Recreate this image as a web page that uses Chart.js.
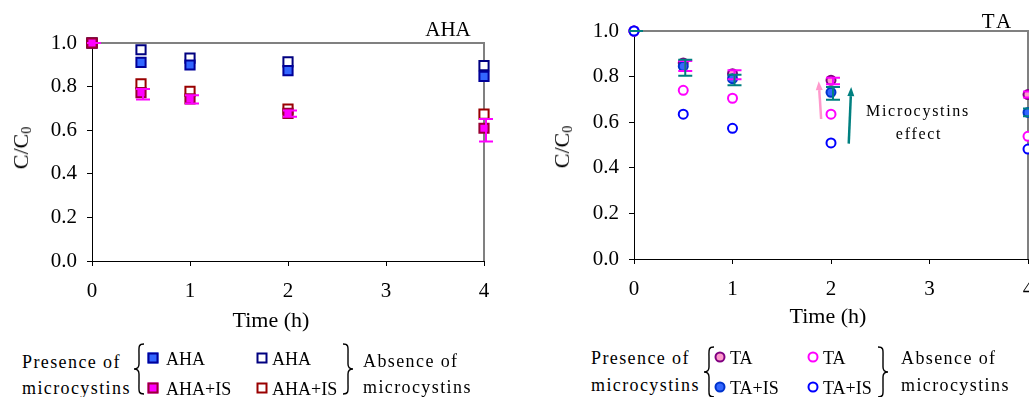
<!DOCTYPE html>
<html>
<head>
<meta charset="utf-8">
<script src="https://cdn.jsdelivr.net/npm/chart.js@4.4.1/dist/chart.umd.min.js"></script>
<style>
  body { margin: 0; background: #fff; }
  #page { position: relative; width: 1029px; height: 397px; overflow: hidden;
          font-family: "Liberation Serif", "Times New Roman", serif; color: #000; }
  canvas { position: absolute; top: 0; }
  .t { position: absolute; white-space: nowrap; line-height: 1; transform: translate(-50%, -50%); }
  .l { position: absolute; white-space: nowrap; line-height: 1; transform: translateY(-50%); font-size: 18px; }
  .sp { letter-spacing: 1.4px; }
  .ytitle { transform: translate(-50%, -50%) rotate(-90deg); font-size: 22px; }
  .ytitle sub { font-size: 14px; vertical-align: -3px; }
  .mk { position: absolute; box-sizing: border-box; width: 11px; height: 11px; border: 2px solid; transform: translate(-50%, -50%); }
  .ci { border-radius: 50%; }
  svg.br { position: absolute; overflow: visible; }
</style>
</head>
<body>
<div id="page">
  <canvas id="ahaChart" width="510" height="310" style="left:0"></canvas>
  <canvas id="taChart" width="530" height="310" style="left:520px"></canvas>

  <div class="t" style="left:448px; top:29px; font-size:21px">AHA</div>
  <div class="t" style="left:998px; top:21px; font-size:21px; letter-spacing:3px">TA</div>
  <div class="t" style="left:271px; top:320px; font-size:22px">Time (h)</div>
  <div class="t" style="left:828px; top:316px; font-size:22px">Time (h)</div>
  <div class="t ytitle" style="left:22px; top:148px">C/C<sub>0</sub></div>
  <div class="t ytitle" style="left:563px; top:147px">C/C<sub>0</sub></div>
  <div class="t sp" style="left:918px; top:111px; font-size:16px; letter-spacing:1.7px">Microcystins</div>
  <div class="t sp" style="left:919px; top:134px; font-size:16px; letter-spacing:1.7px">effect</div>

  <!-- legend AHA -->
  <div class="l sp" style="left:22px; top:362px">Presence of</div>
  <div class="l sp" style="left:22px; top:388px">microcystins</div>
  <svg class="br" style="left:134px; top:343px" width="10" height="52"><path d="M10,1 C4,1 5,4 5,12 L5,21 C5,24 3,26 0,26 C3,26 5,28 5,31 L5,40 C5,48 4,51 10,51" fill="none" stroke="#000" stroke-width="1.4"/></svg>
  <div class="mk" style="left:153px; top:358px; background:#3366FF; border-color:#000099"></div>
  <div class="l" style="left:166px; top:359px">AHA</div>
  <div class="mk" style="left:153px; top:388px; background:#FF00FF; border-color:#990033"></div>
  <div class="l" style="left:166px; top:389px">AHA+IS</div>
  <div class="mk" style="left:262px; top:358px; background:#fff; border-color:#000080"></div>
  <div class="l" style="left:272px; top:359px">AHA</div>
  <div class="mk" style="left:262px; top:388px; background:#fff; border-color:#990000"></div>
  <div class="l" style="left:272px; top:389px">AHA+IS</div>
  <svg class="br" style="left:343px; top:343px" width="10" height="52"><path d="M0,1 C6,1 5,4 5,12 L5,21 C5,24 7,26 10,26 C7,26 5,28 5,31 L5,40 C5,48 6,51 0,51" fill="none" stroke="#000" stroke-width="1.4"/></svg>
  <div class="l sp" style="left:363px; top:361px">Absence of</div>
  <div class="l sp" style="left:363px; top:387px">microcystins</div>

  <!-- legend TA -->
  <div class="l sp" style="left:591px; top:358px">Presence of</div>
  <div class="l sp" style="left:591px; top:385px">microcystins</div>
  <svg class="br" style="left:704px; top:346px" width="10" height="52"><path d="M10,1 C4,1 5,4 5,12 L5,21 C5,24 3,26 0,26 C3,26 5,28 5,31 L5,40 C5,48 4,51 10,51" fill="none" stroke="#000" stroke-width="1.4"/></svg>
  <div class="mk ci" style="left:720px; top:357px; background:#FF99CC; border-color:#800080"></div>
  <div class="l" style="left:730px; top:358px">TA</div>
  <div class="mk ci" style="left:720px; top:387px; background:#3366FF; border-color:#0033CC"></div>
  <div class="l" style="left:730px; top:388px">TA+IS</div>
  <div class="mk ci" style="left:813px; top:357px; background:#fff; border-color:#FF00FF"></div>
  <div class="l" style="left:823px; top:358px">TA</div>
  <div class="mk ci" style="left:813px; top:387px; background:#fff; border-color:#0000FF"></div>
  <div class="l" style="left:823px; top:388px">TA+IS</div>
  <svg class="br" style="left:878px; top:346px" width="10" height="52"><path d="M0,1 C6,1 5,4 5,12 L5,21 C5,24 7,26 10,26 C7,26 5,28 5,31 L5,40 C5,48 6,51 0,51" fill="none" stroke="#000" stroke-width="1.4"/></svg>
  <div class="l sp" style="left:901px; top:358px">Absence of</div>
  <div class="l sp" style="left:901px; top:385px">microcystins</div>
</div>

<script>
// sampling times (h)
const times = [0, 0.5, 1, 2, 4];

// AHA panel, C/C0
const ahaPresence   = [1.0, 0.911, 0.899, 0.873, 0.847];
const ahaAbsence    = [1.0, 0.969, 0.931, 0.913, 0.896];
const ahaIsPresence = [1.0, 0.772, 0.744, 0.677, 0.609];
const ahaIsAbsence  = [1.0, 0.813, 0.778, 0.697, 0.674];
const ahaIsErrHigh  = [1.0, 0.789, 0.760, 0.690, 0.651];
const ahaIsErrLow   = [1.0, 0.741, 0.723, 0.662, 0.548];

// TA panel, C/C0
const taPresence   = [1.0, 0.860, 0.813, 0.784, 0.721];
const taIsPresence = [1.0, 0.845, 0.791, 0.731, 0.643];
const taAbsence    = [1.0, 0.740, 0.705, 0.635, 0.538];
const taIsAbsence  = [1.0, 0.635, 0.573, 0.509, 0.482];
const taErrHigh    = [1.0, 0.868, 0.828, 0.795, 0.735];
const taErrLow     = [1.0, 0.825, 0.788, 0.766, 0.708];
const taIsErrHigh  = [1.0, 0.874, 0.808, 0.754, 0.660];
const taIsErrLow   = [1.0, 0.804, 0.762, 0.699, 0.626];

// "microcystins effect" arrows (time, C/C0), tail -> head
const arrowTaX   = [1.90, 1.875];
const arrowTaY   = [0.614, 0.780];
const arrowTaIsX = [2.18, 2.205];
const arrowTaIsY = [0.506, 0.754];

const xTicks = [0, 1, 2, 3, 4];

const FONT = 'Liberation Serif';

function pts(arr) {
    return times.map((t, i) => ({ x: t, y: arr[i] }));
}

function series(arr, style, fill, border, order) {
    return {
        data: pts(arr),
        pointStyle: style,
        pointRadius: style === 'rect' ? 6.5 : 4.5,
        pointBorderWidth: 2,
        pointBackgroundColor: fill,
        pointBorderColor: border,
        showLine: false,
        clip: false,
        order: order
    };
}

const framePlugin = {
    id: 'frame',
    beforeDatasetsDraw(chart) {
        const { ctx, chartArea: a } = chart;
        ctx.save();
        ctx.strokeStyle = '#808080';
        ctx.lineWidth = 2;
        ctx.beginPath();
        ctx.moveTo(a.left, a.top);
        ctx.lineTo(a.right, a.top);
        ctx.lineTo(a.right, a.bottom);
        ctx.stroke();
        ctx.restore();
    }
};

function errorBarPlugin(bars) {
    return {
        id: 'errbars',
        afterDatasetsDraw(chart) {
            const { ctx, scales: { x, y } } = chart;
            ctx.save();
            ctx.lineWidth = 2;
            bars.forEach(b => {
                ctx.strokeStyle = b.color;
                times.forEach((t, i) => {
                    const px = x.getPixelForValue(t) + 2;
                    const yh = y.getPixelForValue(b.high[i]);
                    const yl = y.getPixelForValue(b.low[i]);
                    ctx.beginPath();
                    ctx.moveTo(px, yh); ctx.lineTo(px, yl);
                    ctx.moveTo(px - 7, yh); ctx.lineTo(px + 7, yh);
                    ctx.moveTo(px - 7, yl); ctx.lineTo(px + 7, yl);
                    ctx.stroke();
                });
            });
            ctx.restore();
        }
    };
}

function arrowPlugin(arrows) {
    return {
        id: 'arrows',
        afterDatasetsDraw(chart) {
            const { ctx, scales: { x, y } } = chart;
            ctx.save();
            arrows.forEach(a => {
                const x0 = x.getPixelForValue(a.xs[0]), y0 = y.getPixelForValue(a.ys[0]);
                const x1 = x.getPixelForValue(a.xs[1]), y1 = y.getPixelForValue(a.ys[1]);
                const ang = Math.atan2(y1 - y0, x1 - x0);
                const head = 9, half = 3.5;
                const bx = x1 - head * Math.cos(ang), by = y1 - head * Math.sin(ang);
                ctx.strokeStyle = a.color;
                ctx.fillStyle = a.color;
                ctx.lineWidth = 2.5;
                ctx.beginPath();
                ctx.moveTo(x0, y0); ctx.lineTo(bx, by);
                ctx.stroke();
                ctx.beginPath();
                ctx.moveTo(x1, y1);
                ctx.lineTo(bx + half * Math.sin(ang), by - half * Math.cos(ang));
                ctx.lineTo(bx - half * Math.sin(ang), by + half * Math.cos(ang));
                ctx.closePath();
                ctx.fill();
            });
            ctx.restore();
        }
    };
}

function makeChart(id, datasets, yWidth, xHeight, padTop, padRight, plugins) {
    const axisGrid = { drawOnChartArea: false, drawTicks: true, tickLength: 5, tickColor: '#000', tickWidth: 1 };
    return new Chart(document.getElementById(id), {
        type: 'scatter',
        data: { datasets },
        options: {
            responsive: false,
            animation: false,
            events: [],
            layout: { padding: { top: padTop, right: padRight, left: 0, bottom: 0 } },
            plugins: { legend: { display: false }, tooltip: { enabled: false } },
            scales: {
                x: {
                    type: 'linear', min: 0, max: 4,
                    afterBuildTicks: s => { s.ticks = xTicks.map(v => ({ value: v })); },
                    ticks: { color: '#000', font: { family: FONT, size: 21 }, padding: 13, maxRotation: 0 },
                    grid: axisGrid,
                    border: { color: '#000', width: 1 },
                    afterFit: s => { s.height = xHeight; }
                },
                y: {
                    min: 0, max: 1,
                    ticks: {
                        stepSize: 0.1,
                        color: '#000',
                        font: { family: FONT, size: 21 },
                        padding: 10,
                        callback: v => (Math.round(v * 10) % 2 === 0 ? v.toFixed(1) : '')
                    },
                    grid: axisGrid,
                    border: { color: '#000', width: 1 },
                    afterFit: s => { s.width = yWidth; }
                }
            }
        },
        plugins: [framePlugin].concat(plugins)
    });
}

makeChart('ahaChart', [
    series(ahaIsPresence, 'rect', '#FF00FF', '#990033', 0),
    series(ahaIsAbsence, 'rect', '#FFFFFF', '#990000', 1),
    series(ahaPresence, 'rect', '#3366FF', '#000099', 2),
    series(ahaAbsence, 'rect', '#FFFFFF', '#000080', 3)
], 92, 49, 43, 26, [
    errorBarPlugin([{ high: ahaIsErrHigh, low: ahaIsErrLow, color: '#FF00FF' }])
]);

makeChart('taChart', [
    series(taIsAbsence, 'circle', '#FFFFFF', '#0000FF', 0),
    series(taAbsence, 'circle', '#FFFFFF', '#FF00FF', 1),
    series(taIsPresence, 'circle', '#3366FF', '#0033CC', 2),
    series(taPresence, 'circle', '#FF99CC', '#800080', 3)
], 114, 51, 31, 22, [
    errorBarPlugin([
        { high: taErrHigh, low: taErrLow, color: '#FF00FF' },
        { high: taIsErrHigh, low: taIsErrLow, color: '#008080' }
    ]),
    arrowPlugin([
        { xs: arrowTaX, ys: arrowTaY, color: '#FF99CC' },
        { xs: arrowTaIsX, ys: arrowTaIsY, color: '#008080' }
    ])
]);
</script>
</body>
</html>
